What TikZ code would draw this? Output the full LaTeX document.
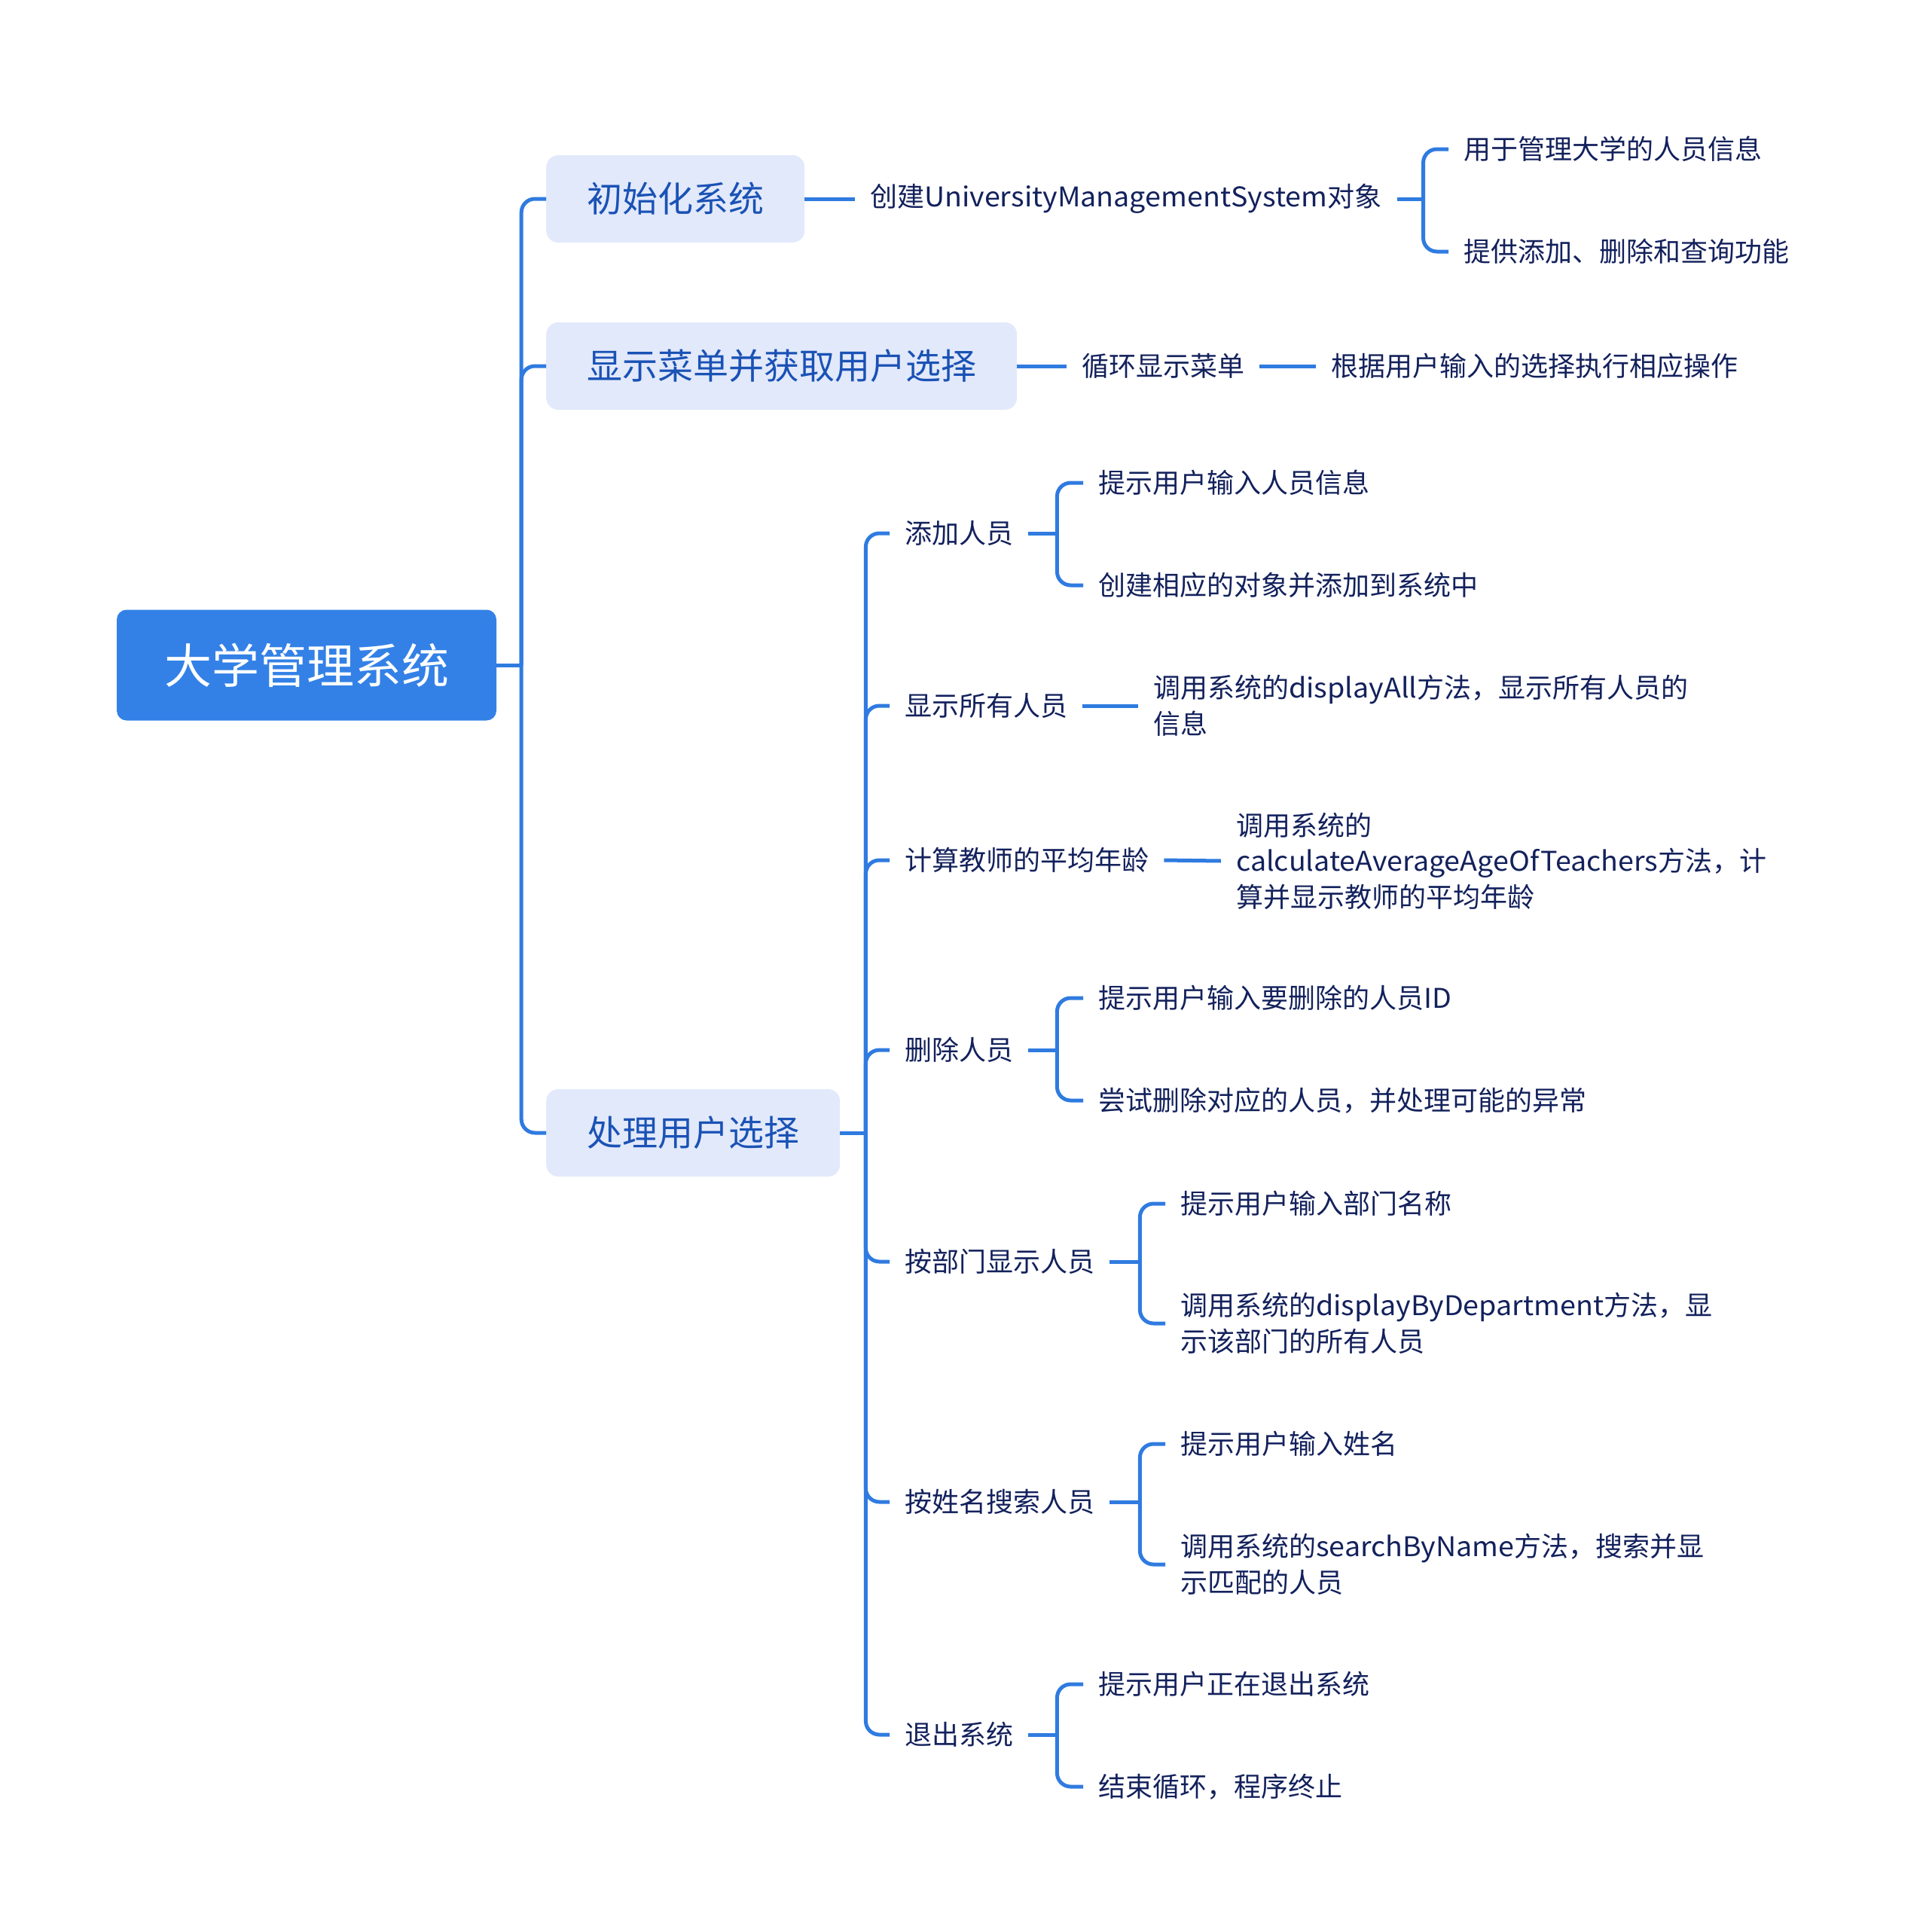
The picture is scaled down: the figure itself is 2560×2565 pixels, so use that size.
\documentclass[tikz,border=0pt]{standalone}
\usepackage{fontspec}
\setmainfont{Noto Sans CJK SC}
\newfontfamily\enfont[FakeStretch=1.045]{Noto Sans CJK SC}
\newcommand\latn[1]{{\enfont #1}}
\definecolor{rootblue}{HTML}{3381E7}
\definecolor{lineblue}{HTML}{2F7BE0}
\definecolor{lonefill}{HTML}{E2E9FB}
\definecolor{lonetext}{HTML}{1A52B5}
\definecolor{leaftext}{HTML}{13215C}
\begin{document}
\begin{tikzpicture}[x=1pt,y=-1pt,
 rootnode/.style={fill=rootblue, rounded corners=13pt, text=white, font=\fontsize{63}{76}\selectfont, minimum width=504pt, minimum height=147pt, inner sep=0pt},
 lone/.style={fill=lonefill, rounded corners=16pt, text=lonetext, font=\fontsize{47}{56}\selectfont, minimum height=116pt, inner xsep=54pt, inner ysep=0pt, anchor=west},
 leaf/.style={text=leaftext, font=\fontsize{36}{47.5}\selectfont, inner xsep=20pt, inner ysep=4pt, anchor=west, align=left},
 conn/.style={draw=lineblue, line width=5pt, rounded corners=18pt},
]
\useasboundingbox (0,0) rectangle (2560,2565);

% root and level 1
\node[rootnode] (root) at (407,883) {大学管理系统};
\node[lone] (a1) at (725,264) {初始化系统};
\node[lone] (a2) at (725,486) {显示菜单并获取用户选择};
\node[lone] (a3) at (725,1504) {处理用户选择};

% branch a1
\node[leaf] (b1) at (1135,264) {创建\latn{UniversityManagementSystem}对象};
\node[leaf] (c1) at (1923,198) {用于管理大学的人员信息};
\node[leaf] (c2) at (1923,334) {提供添加、删除和查询功能};

% branch a2
\node[leaf] (b2) at (1416,486) {循环显示菜单};
\node[leaf] (b3) at (1747,486) {根据用户输入的选择执行相应操作};

% branch a3
\node[leaf] (d1) at (1181,708) {添加人员};
\node[leaf] (d2) at (1181,937) {显示所有人员};
\node[leaf] (d3) at (1181,1142) {计算教师的平均年龄};
\node[leaf] (d4) at (1181,1394) {删除人员};
\node[leaf] (d5) at (1181,1675) {按部门显示人员};
\node[leaf] (d6) at (1181,1994) {按姓名搜索人员};
\node[leaf] (d7) at (1181,2303) {退出系统};

\node[leaf] (e11) at (1438,641) {提示用户输入人员信息};
\node[leaf] (e12) at (1438,777) {创建相应的对象并添加到系统中};
\node[leaf] (e2) at (1511,937) {调用系统的\latn{displayAll}方法，显示所有人员的\\信息};
\node[leaf] (e3) at (1621,1143) {调用系统的\\\latn{calculateAverageAgeOfTeachers}方法，计\\算并显示教师的平均年龄};
\node[leaf] (e41) at (1438,1325) {提示用户输入要删除的人员\latn{ID}};
\node[leaf] (e42) at (1438,1461) {尝试删除对应的人员，并处理可能的异常};
\node[leaf] (e51) at (1547,1598) {提示用户输入部门名称};
\node[leaf] (e52) at (1547,1757) {调用系统的\latn{displayByDepartment}方法，显\\示该部门的所有人员};
\node[leaf] (e61) at (1547,1917) {提示用户输入姓名};
\node[leaf] (e62) at (1547,2077) {调用系统的\latn{searchByName}方法，搜索并显\\示匹配的人员};
\node[leaf] (e71) at (1438,2236) {提示用户正在退出系统};
\node[leaf] (e72) at (1438,2372) {结束循环，程序终止};

% connectors
\draw[conn] (root.east) -- ++(33,0) coordinate (t0);
\draw[conn] (t0) |- (a1.west);
\draw[conn] (t0) |- (a2.west);
\draw[conn] (t0) |- (a3.west);

\draw[conn] (a1.east) -- (b1.west);
\draw[conn] (b1.east) -- ++(35,0) coordinate (j1);
\draw[conn] (j1) |- (c1.west);
\draw[conn] (j1) |- (c2.west);

\draw[conn] (a2.east) -- (b2.west);
\draw[conn] (b2.east) -- (b3.west);

\draw[conn] (a3.east) -- ++(34,0) coordinate (t3);
\foreach \n in {d1,d2,d3,d4,d5,d6,d7} {\draw[conn] (t3) |- (\n.west);}

\draw[conn] (d1.east) -- ++(38,0) coordinate (jd1);
\draw[conn] (jd1) |- (e11.west);
\draw[conn] (jd1) |- (e12.west);
\draw[conn] (d2.east) -- (e2.west);
\draw[conn] (d3.east) -- (e3.west);
\draw[conn] (d4.east) -- ++(38,0) coordinate (jd4);
\draw[conn] (jd4) |- (e41.west);
\draw[conn] (jd4) |- (e42.west);
\draw[conn] (d5.east) -- ++(40,0) coordinate (jd5);
\draw[conn] (jd5) |- (e51.west);
\draw[conn] (jd5) |- (e52.west);
\draw[conn] (d6.east) -- ++(40,0) coordinate (jd6);
\draw[conn] (jd6) |- (e61.west);
\draw[conn] (jd6) |- (e62.west);
\draw[conn] (d7.east) -- ++(38,0) coordinate (jd7);
\draw[conn] (jd7) |- (e71.west);
\draw[conn] (jd7) |- (e72.west);
\end{tikzpicture}
\end{document}
